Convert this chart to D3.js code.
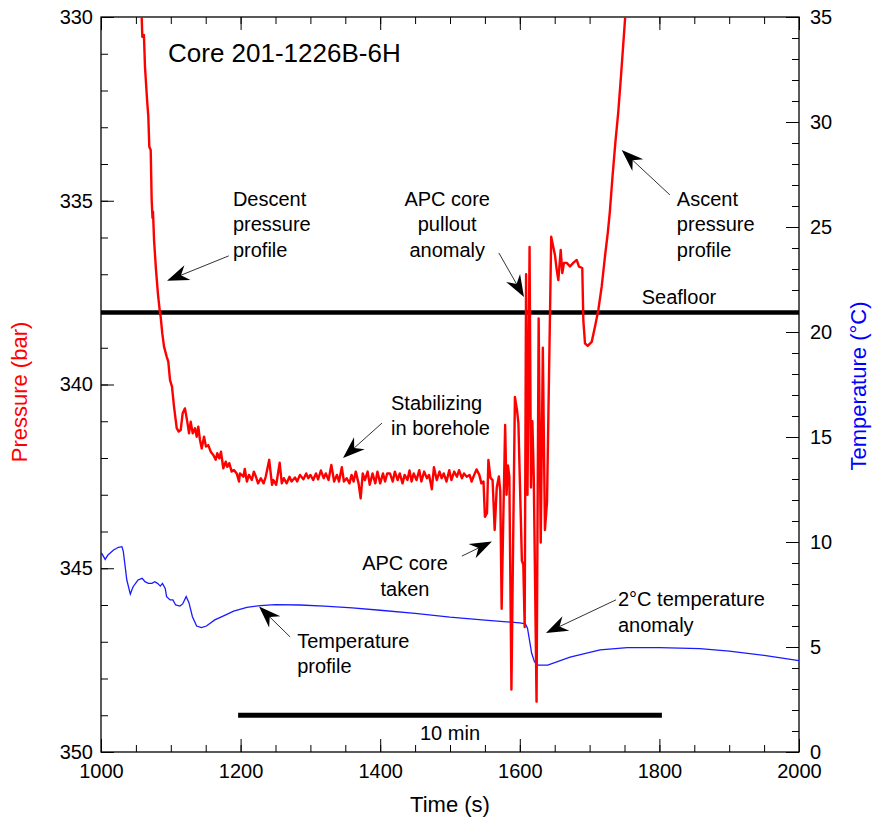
<!DOCTYPE html>
<html>
<head>
<meta charset="utf-8">
<script src="https://cdn.jsdelivr.net/npm/d3@7"></script>
<style>
  body { margin: 0; background: #fff; }
  svg text { font-family: "Liberation Sans", Arial, Helvetica, sans-serif; }
</style>
</head>
<body>
<svg width="874" height="823"></svg>
<script>
// time (s), pressure (bar)
var pressure = [
  [1056,329.4],[1058.3,330.0],[1059.2,330.54],[1061.5,330.49],[1063,331.35],[1066.3,332.34],[1067.8,332.71],
  [1069.2,333.53],[1071.2,333.62],[1072.6,334.98],[1073.8,335.47],[1074.5,335.3],[1076,336.07],[1078.8,336.88],
  [1081.7,337.56],[1084.5,338.05],[1085.5,338.16],[1087.8,338.61],[1090.3,338.97],[1094.1,339.24],[1096.4,339.38],
  [1098.9,339.88],[1101.7,340.06],[1104.6,340.6],[1108.5,341.19],[1111.3,341.28],[1114.2,341.24],[1117,340.78],
  [1120.3,340.65],[1123.6,341.01],[1126.1,341.33],[1128.5,341.01],[1131.4,341.33],[1134.7,341.19],[1137.1,341.42],
  [1139.4,341.15],[1141.8,341.51],[1144.3,341.74],[1147.6,341.42],[1150.4,341.69],[1153.7,341.65],[1157.2,341.83],
  [1160.9,341.92],[1164.3,342.05],[1166.6,341.87],[1169.5,342.01],[1171.9,341.83],[1175.2,342.28],[1178.7,342.10],
  [1180.9,342.24],[1183.8,342.14],[1187.2,342.37],[1190.5,342.33],[1194.4,342.42],[1197.7,342.64],
  [1199,342.42],[1204,342.51],[1206,342.30],[1209,342.64],[1212,342.46],[1216,342.60],[1219,342.37],[1222,342.51],
  [1225,342.69],[1229,342.55],[1233,342.69],[1236,342.51],[1241,342.05],[1245,342.73],[1247,342.60],[1251,342.73],
  [1256,342.13],[1259,342.69],[1262,342.55],[1266,342.69],[1270,342.51],[1273,342.64],[1278,342.53],[1281,342.64],
  [1285,342.46],[1290,342.58],[1294,342.42],[1297,342.55],[1300,342.46],[1304,342.60],[1308,342.42],[1311,342.58],
  [1315,342.34],[1319,342.55],[1322,342.42],[1326,342.60],[1330,342.19],[1334,342.64],[1338,342.46],[1341,342.64],
  [1345,342.25],[1348,342.64],[1352,342.55],[1356,342.69],[1359,342.46],[1362,342.64],[1365,342.37],[1369,342.69],
  [1372,343.10],[1375,342.42],[1378,342.60],[1382,342.37],[1385,342.73],[1389,342.42],[1393,342.69],[1396,342.37],
  [1400,342.69],[1404,342.42],[1407,342.64],[1410,342.42],[1414,342.42],[1418,342.64],[1421,342.37],[1425,342.60],
  [1428,342.42],[1432,342.69],[1435,342.46],[1439,342.60],[1442,342.34],[1445,342.64],[1448,342.42],[1452,342.60],
  [1456,342.33],[1459,342.64],[1463,342.37],[1467,342.55],[1470,342.46],[1474,342.85],[1477,342.25],[1481,342.60],
  [1485,342.37],[1488,342.55],[1491,342.42],[1495,342.64],[1499,342.33],[1502,342.60],[1506,342.37],[1510,342.51],
  [1513,342.33],[1517,342.55],[1520,342.42],[1524,342.51],[1528,342.46],[1531,342.64],[1534,342.49],[1538,342.31],
  [1542,342.46],[1545,342.69],[1548,342.64],
  [1550,343.6],[1553,343.5],[1555,342.05],[1558,342.54],[1561,342.6],[1564,343.96],[1567,342.8],[1570,342.5],
  [1572,342.9],[1574,346.1],[1576,344.0],[1579,341.1],[1581,343.0],[1583,342.2],[1585,342.5],[1588,348.3],
  [1590,345.0],[1593,340.34],[1596,340.7],[1598,341.05],[1603,344.8],[1605,344.9],[1607,346.6],[1609,337.0],
  [1611,343.0],[1614,336.26],[1616,342.8],[1618,341.0],[1620,342.5],[1624,348.63],[1627,338.2],[1630,344.3],
  [1633,339.0],[1636,343.96],[1639,343.2],[1645,335.98],[1650.4,336.48],[1652.9,336.88],[1655.2,337.16],
  [1658.6,336.34],[1660.9,336.97],[1663.3,336.69],[1667.2,336.69],[1671.9,336.79],[1676.6,336.69],[1681.5,336.61],
  [1684.8,336.79],[1689.5,336.83],[1691,338.24],[1693.4,338.88],[1697.3,338.95],[1703,338.84],[1707.7,338.43],
  [1712.5,337.97],[1717.3,337.34],[1722,336.52],[1726,335.88],[1729,335.3],[1733,334.3],[1737,333.4],
  [1741,332.6],[1745,331.6],[1748,330.8],[1751,330.0],[1754,329.3]
];

// time (s), temperature (C)
var temperature = [
  [1000,9.40],[1001,9.46],[1006,9.17],[1010,9.38],[1018,9.62],[1025,9.75],[1030,9.78],[1032,9.54],[1037,8.19],
  [1042,7.52],[1046,7.87],[1053,8.19],[1059,8.27],[1063,8.11],[1068,8.03],[1073,8.03],[1077,8.11],[1081,8.03],
  [1085,7.90],[1088,8.03],[1092,7.79],[1094,7.40],[1099,7.24],[1103,7.24],[1107,7.00],[1113,6.95],[1117,7.05],
  [1122,7.40],[1126,7.11],[1131,6.44],[1137,6.00],[1144,5.92],[1151,6.00],[1163,6.29],[1178,6.52],[1190,6.71],
  [1209,6.89],[1228,6.97],[1250,7.02],[1285,7.00],[1320,6.95],[1360,6.86],[1400,6.75],[1450,6.60],[1500,6.42],
  [1550,6.28],[1600,6.15],[1608,6.10],[1611,5.90],[1614,5.30],[1617,4.70],[1621,4.30],[1626,4.14],[1640,4.14],
  [1672,4.52],[1715,4.86],[1754,4.97],[1800,4.97],[1858,4.92],[1900,4.80],[1950,4.60],[2000,4.35]
];

var seafloorPressure = 338.04;
var scaleBar = [1200, 1800];
var scaleBarPressure = 349.0;

var timeTicks = [1000, 1200, 1400, 1600, 1800, 2000];
var pressureTicks = [330, 335, 340, 345, 350];
var tempTicks = [0, 5, 10, 15, 20, 25, 30, 35];

// annotations in data units: text anchor (time, pressure), arrow from/to
var notes = [
  {lines: ["Descent", "pressure", "profile"], t: 1189, p: 335.14, anchor: "start", from: [1183, 336.50], to: [1094.6, 337.18]},
  {lines: ["APC core", "pullout", "anomaly"], t: 1496, p: 335.14, anchor: "middle", from: [1570, 336.42], to: [1606, 337.62]},
  {lines: ["Ascent", "pressure", "profile"], t: 1825, p: 335.14, anchor: "start", from: [1815, 334.84], to: [1746, 333.62]},
  {lines: ["Seafloor"], t: 1828, p: 337.81, anchor: "middle"},
  {lines: ["Stabilizing", "in borehole"], t: 1415.5, p: 340.69, anchor: "start", from: [1402.6, 341.05], to: [1346.7, 342.0]},
  {lines: ["APC core", "taken"], t: 1435.5, p: 345.05, anchor: "middle", from: [1517, 344.67], to: [1560, 344.27]},
  {lines: ["2°C temperature", "anomaly"], t: 1740.7, p: 346.03, anchor: "start", from: [1737.8, 345.86], to: [1637.5, 346.76]},
  {lines: ["Temperature", "profile"], t: 1281, p: 347.17, anchor: "start", from: [1271, 346.87], to: [1226.4, 346.04]}
];

var svg = d3.select("svg");
var plotLeft = 101, plotRight = 799, plotTop = 17, plotBottom = 752;

var x = d3.scaleLinear().domain([1000, 2000]).range([plotLeft, plotRight]);
var y = d3.scaleLinear().domain([330, 350]).range([plotTop, plotBottom]);
var yT = d3.scaleLinear().domain([0, 35]).range([plotBottom, plotTop]);

svg.append("defs").append("clipPath").attr("id", "plot")
  .append("rect").attr("x", plotLeft).attr("y", plotTop)
  .attr("width", plotRight - plotLeft).attr("height", plotBottom - plotTop);

// ticks (inward), minor first then major with labels
function styleAxis(g) {
  g.select(".domain").remove();
  g.selectAll("line").attr("stroke", "#000").attr("stroke-width", 1);
  g.selectAll("text").attr("font-size", 20).attr("fill", "#000");
}
svg.append("g").attr("transform", "translate(0," + plotBottom + ")")
  .call(d3.axisBottom(x).ticks(20).tickSize(-7).tickFormat("")).call(styleAxis);
svg.append("g").attr("transform", "translate(0," + plotBottom + ")")
  .call(d3.axisBottom(x).tickValues(timeTicks).tickSize(-13).tickPadding(12).tickFormat(d3.format("d"))).call(styleAxis);
svg.append("g").attr("transform", "translate(0," + plotTop + ")")
  .call(d3.axisTop(x).ticks(20).tickSize(-7).tickFormat("")).call(styleAxis);
svg.append("g").attr("transform", "translate(0," + plotTop + ")")
  .call(d3.axisTop(x).tickValues(timeTicks).tickSize(-13).tickFormat("")).call(styleAxis);

svg.append("g").attr("transform", "translate(" + plotLeft + ",0)")
  .call(d3.axisLeft(y).ticks(20).tickSize(-7).tickFormat("")).call(styleAxis);
svg.append("g").attr("transform", "translate(" + plotLeft + ",0)")
  .call(d3.axisLeft(y).tickValues(pressureTicks).tickSize(-13).tickPadding(8).tickFormat(d3.format("d"))).call(styleAxis);

svg.append("g").attr("transform", "translate(" + plotRight + ",0)")
  .call(d3.axisRight(yT).ticks(35).tickSize(-7).tickFormat("")).call(styleAxis);
svg.append("g").attr("transform", "translate(" + plotRight + ",0)")
  .call(d3.axisRight(yT).tickValues(tempTicks).tickSize(-13).tickPadding(11).tickFormat(d3.format("d"))).call(styleAxis);

svg.append("rect").attr("x", plotLeft).attr("y", plotTop)
  .attr("width", plotRight - plotLeft).attr("height", plotBottom - plotTop)
  .attr("fill", "none").attr("stroke", "#000").attr("stroke-width", 1.3);

// axis titles
svg.append("text").attr("x", (plotLeft + plotRight) / 2).attr("y", 812).attr("text-anchor", "middle")
  .attr("font-size", 22).text("Time (s)");
svg.append("text").attr("transform", "translate(27,392) rotate(-90)").attr("text-anchor", "middle")
  .attr("font-size", 22).attr("fill", "#ff0000").text("Pressure (bar)");
svg.append("text").attr("transform", "translate(866,386) rotate(-90)").attr("text-anchor", "middle")
  .attr("font-size", 22).attr("fill", "#0000ff").text("Temperature (°C)");

// reference lines
svg.append("line").attr("x1", x(1000)).attr("x2", x(2000))
  .attr("y1", y(seafloorPressure)).attr("y2", y(seafloorPressure))
  .attr("stroke", "#000").attr("stroke-width", 4.5);
svg.append("line").attr("x1", x(scaleBar[0])).attr("x2", x(scaleBar[1]))
  .attr("y1", y(scaleBarPressure)).attr("y2", y(scaleBarPressure))
  .attr("stroke", "#000").attr("stroke-width", 5).attr("stroke-linecap", "square");
svg.append("text").attr("x", x(1500)).attr("y", y(349.67)).attr("text-anchor", "middle")
  .attr("font-size", 20).text("10 min");

// series
var plot = svg.append("g").attr("clip-path", "url(#plot)");
plot.append("path").datum(temperature)
  .attr("fill", "none").attr("stroke", "#1a1aff").attr("stroke-width", 1.3)
  .attr("d", d3.line().x(d => x(d[0])).y(d => yT(d[1])));
plot.append("path").datum(pressure)
  .attr("fill", "none").attr("stroke", "#ff0000").attr("stroke-width", 2.4).attr("stroke-linejoin", "round")
  .attr("d", d3.line().x(d => x(d[0])).y(d => y(d[1])));

// title
svg.append("text").attr("x", x(1096)).attr("y", y(331.22)).attr("font-size", 26).text("Core 201-1226B-6H");

// annotations
var lineGap = 25.5;
notes.forEach(function(n) {
  var t = svg.append("text").attr("x", x(n.t)).attr("y", y(n.p)).attr("font-size", 20)
    .attr("text-anchor", n.anchor);
  n.lines.forEach(function(s, i) {
    t.append("tspan").attr("x", x(n.t)).attr("dy", i == 0 ? 0 : lineGap).text(s);
  });
  if (!n.from) return;
  var x0 = x(n.from[0]), y0 = y(n.from[1]), x1 = x(n.to[0]), y1 = y(n.to[1]);
  var a = Math.atan2(y1 - y0, x1 - x0);
  var len = 22, hw = 8, notch = 15;
  var ux = Math.cos(a), uy = Math.sin(a);
  svg.append("line").attr("x1", x0).attr("y1", y0)
    .attr("x2", x1 - ux * notch).attr("y2", y1 - uy * notch)
    .attr("stroke", "#333").attr("stroke-width", 1);
  var pts = [
    [x1, y1],
    [x1 - ux * len - uy * hw, y1 - uy * len + ux * hw],
    [x1 - ux * notch, y1 - uy * notch],
    [x1 - ux * len + uy * hw, y1 - uy * len - ux * hw]
  ];
  svg.append("path").attr("d", "M" + pts.join("L") + "Z").attr("fill", "#000");
});
</script>
</body>
</html>
